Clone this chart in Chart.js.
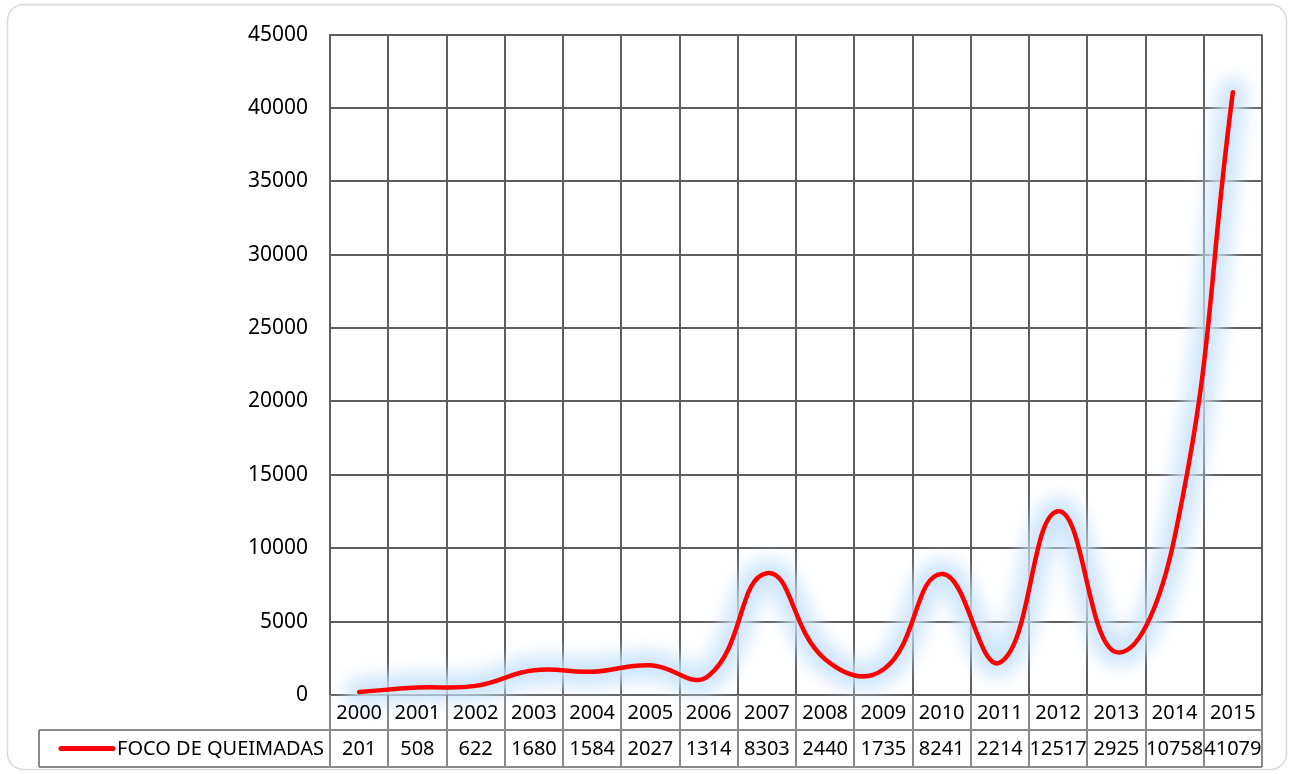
<!DOCTYPE html>
<html>
<head>
<meta charset="utf-8">
<script src="https://cdn.jsdelivr.net/npm/chart.js@4.4.0/dist/chart.umd.min.js"></script>
<style>
html,body{margin:0;padding:0;background:#fff;}
#wrap{width:1293px;height:774px;position:relative;}
</style>
</head>
<body>
<div id="wrap"><canvas id="c" width="1293" height="774"></canvas></div>
<script>
const years = ['2000','2001','2002','2003','2004','2005','2006','2007','2008','2009','2010','2011','2012','2013','2014','2015'];
const focos = [201,508,622,1680,1584,2027,1314,8303,2440,1735,8241,2214,12517,2925,10758,41079];
const seriesName = 'FOCO DE QUEIMADAS';
const yTicks = {min:0, max:45000, step:5000};

const FONT = '"Noto Sans", "Liberation Sans", sans-serif';

const bgPlugin = {
  id:'bg',
  beforeDraw(chart){
    const ctx = chart.ctx;
    ctx.save();
    ctx.fillStyle = '#fff';
    ctx.fillRect(0,0,chart.width,chart.height);
    ctx.strokeStyle = '#d9d9d9';
    ctx.lineWidth = 1.5;
    ctx.beginPath();
    ctx.roundRect(7.5,4.5,1279,765,16);
    ctx.stroke();
    ctx.restore();
  }
};

const glowPlugin = {
  id:'glow',
  beforeDatasetDraw(chart, args){
    const ctx = chart.ctx;
    const line = args.meta.dataset;
    const opts = line.options;
    const oc = opts.borderColor, ow = opts.borderWidth;
    ctx.save();
    ctx.filter = 'blur(9px)';
    opts.borderColor = 'rgba(200,226,250,0.9)';
    opts.borderWidth = 28;
    line.draw(ctx, chart.chartArea);
    opts.borderColor = oc;
    opts.borderWidth = ow;
    ctx.restore();
  }
};

const tablePlugin = {
  id:'table',
  afterDraw(chart){
    const ctx = chart.ctx;
    const xs = chart.scales.x;
    const area = chart.chartArea;
    const n = years.length;
    const w = (area.right - area.left)/n;
    const yTop = area.bottom;
    const yMid = yTop + 35;
    const yBot = yMid + 37;
    const xLeft = 39;
    ctx.save();
    ctx.strokeStyle = '#8a8a8a';
    ctx.lineWidth = 2;
    ctx.beginPath();
    for(let i=0;i<=n;i++){
      const bx = Math.round(area.left + i*w) ;
      ctx.moveTo(bx, yTop);
      ctx.lineTo(bx, yBot);
    }
    ctx.moveTo(xLeft, yMid); ctx.lineTo(area.right, yMid);
    ctx.moveTo(xLeft, yBot); ctx.lineTo(area.right, yBot);
    ctx.moveTo(xLeft, yMid); ctx.lineTo(xLeft, yBot);
    ctx.stroke();

    ctx.fillStyle = '#000';
    ctx.textAlign = 'center';
    ctx.textBaseline = 'middle';
    ctx.font = '20px ' + FONT;
    for(let i=0;i<n;i++){
      const cx = xs.getPixelForValue(i);
      ctx.fillText(years[i], cx, (yTop+yMid)/2+1);
      ctx.fillText(String(focos[i]), cx, (yMid+yBot)/2+1);
    }
    // legend key
    ctx.strokeStyle = '#ff0000';
    ctx.lineWidth = 5;
    ctx.lineCap = 'round';
    ctx.beginPath();
    ctx.moveTo(61, (yMid+yBot)/2);
    ctx.lineTo(113, (yMid+yBot)/2);
    ctx.stroke();
    ctx.textAlign = 'left';
    ctx.font = '20px ' + FONT;
    ctx.fillText(seriesName, 117, (yMid+yBot)/2+1);
    ctx.restore();
  }
};

new Chart(document.getElementById('c'), {
  type:'line',
  data:{
    labels: years,
    datasets:[{
      label: seriesName,
      data: focos,
      borderColor:'#ff0000',
      borderWidth:4.5,
      pointRadius:0,
      tension:0.45,
      fill:false,
      borderCapStyle:'round'
    }]
  },
  options:{
    responsive:false,
    animation:false,
    devicePixelRatio:1,
    layout:{padding:{left:0, top:33, right:31, bottom:79}},
    plugins:{legend:{display:false}, tooltip:{enabled:false}},
    scales:{
      x:{
        offset:true,
        grid:{offset:true, color:'#5f5f5f', lineWidth:2, drawTicks:false},
        border:{display:true, color:'#5f5f5f', width:2},
        ticks:{display:false}
      },
      y:{
        min:yTicks.min, max:yTicks.max,
        afterFit(scale){ scale.width = 330; },
        grid:{color:'#5f5f5f', lineWidth:2, drawTicks:false},
        border:{display:true, color:'#5f5f5f', width:2},
        ticks:{stepSize:yTicks.step, color:'#000', padding:22, font:{family:FONT, size:21},
               callback:(v)=>String(v)}
      }
    }
  },
  plugins:[bgPlugin, glowPlugin, tablePlugin]
});
</script>
</body>
</html>
